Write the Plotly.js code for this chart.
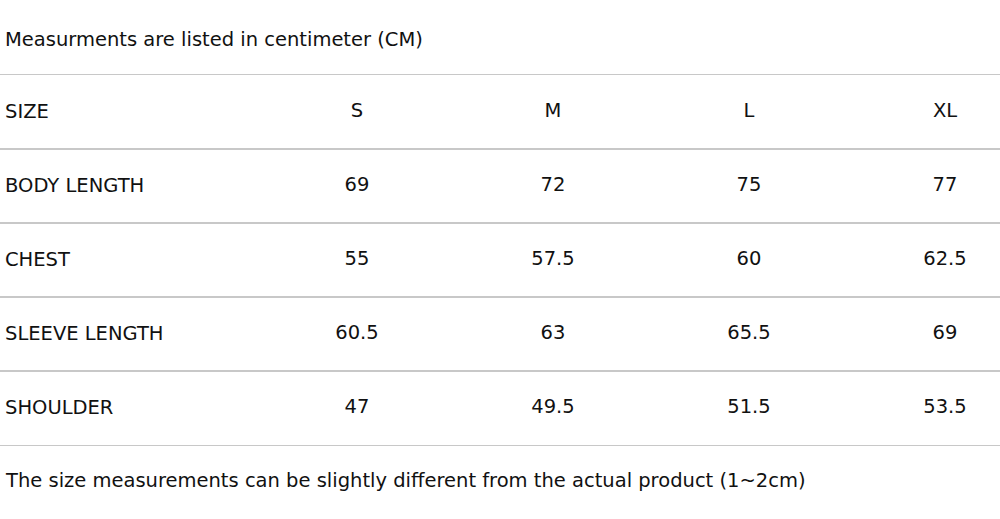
<!DOCTYPE html>
<html>
<head>
<meta charset="utf-8">
<script src="https://cdn.plot.ly/plotly-3.0.1.min.js"></script>
<style>html,body{margin:0;padding:0;background:#fff;}#chart{width:1000px;height:519px;}</style>
</head>
<body>
<div id="chart"></div>
<script>
var titleText = "Measurments are listed in centimeter (CM)";
var footnote = "The size measurements can be slightly different from the actual product (1~2cm)";
var sizes = ["S", "M", "L", "XL"];
var headerLabel = "SIZE";
var rowLabels = ["BODY LENGTH", "CHEST", "SLEEVE LENGTH", "SHOULDER"];
var bodyLength = [69, 72, 75, 77];
var chest = [55, 57.5, 60, 62.5];
var sleeveLength = [60.5, 63, 65.5, 69];
var shoulder = [47, 49.5, 51.5, 53.5];

var seriesValues = [bodyLength, chest, sleeveLength, shoulder];
var allRows = [headerLabel].concat(rowLabels);

var FONT = '"DejaVu Sans", "Noto Sans", sans-serif';
var TXT = '#111111';
var FS = 19.5;

var traces = [];
traces.push({
  type: 'scatter', mode: 'text',
  x: sizes, y: sizes.map(function(){return headerLabel;}),
  text: sizes, textposition: 'middle center',
  textfont: {family: FONT, size: FS, color: TXT},
  hoverinfo: 'skip', showlegend: false
});
rowLabels.forEach(function(lbl, i){
  traces.push({
    type: 'scatter', mode: 'text',
    x: sizes, y: sizes.map(function(){return lbl;}),
    text: seriesValues[i].map(String), textposition: 'middle center',
    textfont: {family: FONT, size: FS, color: TXT},
    hoverinfo: 'skip', showlegend: false
  });
});

var layout = {
  width: 1000, height: 519,
  margin: {l: 0, r: 0, t: 75, b: 74, pad: 0},
  paper_bgcolor: '#ffffff', plot_bgcolor: '#ffffff',
  showlegend: false,
  font: {family: FONT, color: TXT},
  title: {
    text: titleText,
    font: {family: FONT, size: FS, color: TXT},
    x: 0.005, xanchor: 'left', xref: 'paper',
    y: 1 - 39/519, yanchor: 'middle', yref: 'container'
  },
  xaxis: {
    type: 'category', categoryorder: 'array', categoryarray: sizes,
    range: [-357/196, (1000-357)/196],
    showgrid: false, zeroline: false,
    showline: true, mirror: true, linecolor: '#c8c8c8', linewidth: 1.4,
    showticklabels: false, ticks: '', fixedrange: true
  },
  yaxis: {
    type: 'category', categoryorder: 'array', categoryarray: allRows,
    range: [allRows.length - 0.5, -0.5],
    tickson: 'boundaries', ticks: '',
    showgrid: true, gridcolor: '#c8c8c8', gridwidth: 1.4,
    zeroline: false, showline: false,
    ticklabelposition: 'inside', ticklabelstandoff: 2, ticklabelshift: 1,
    tickfont: {family: FONT, size: FS, color: TXT},
    fixedrange: true
  },
  annotations: [{
    text: footnote, xref: 'paper', yref: 'paper',
    x: 0, y: 0, xanchor: 'left', yanchor: 'middle',
    xshift: 3, yshift: -35, showarrow: false,
    font: {family: FONT, size: FS, color: TXT}
  }]
};

Plotly.newPlot('chart', traces, layout, {displayModeBar: false, staticPlot: true});
</script>
</body>
</html>
